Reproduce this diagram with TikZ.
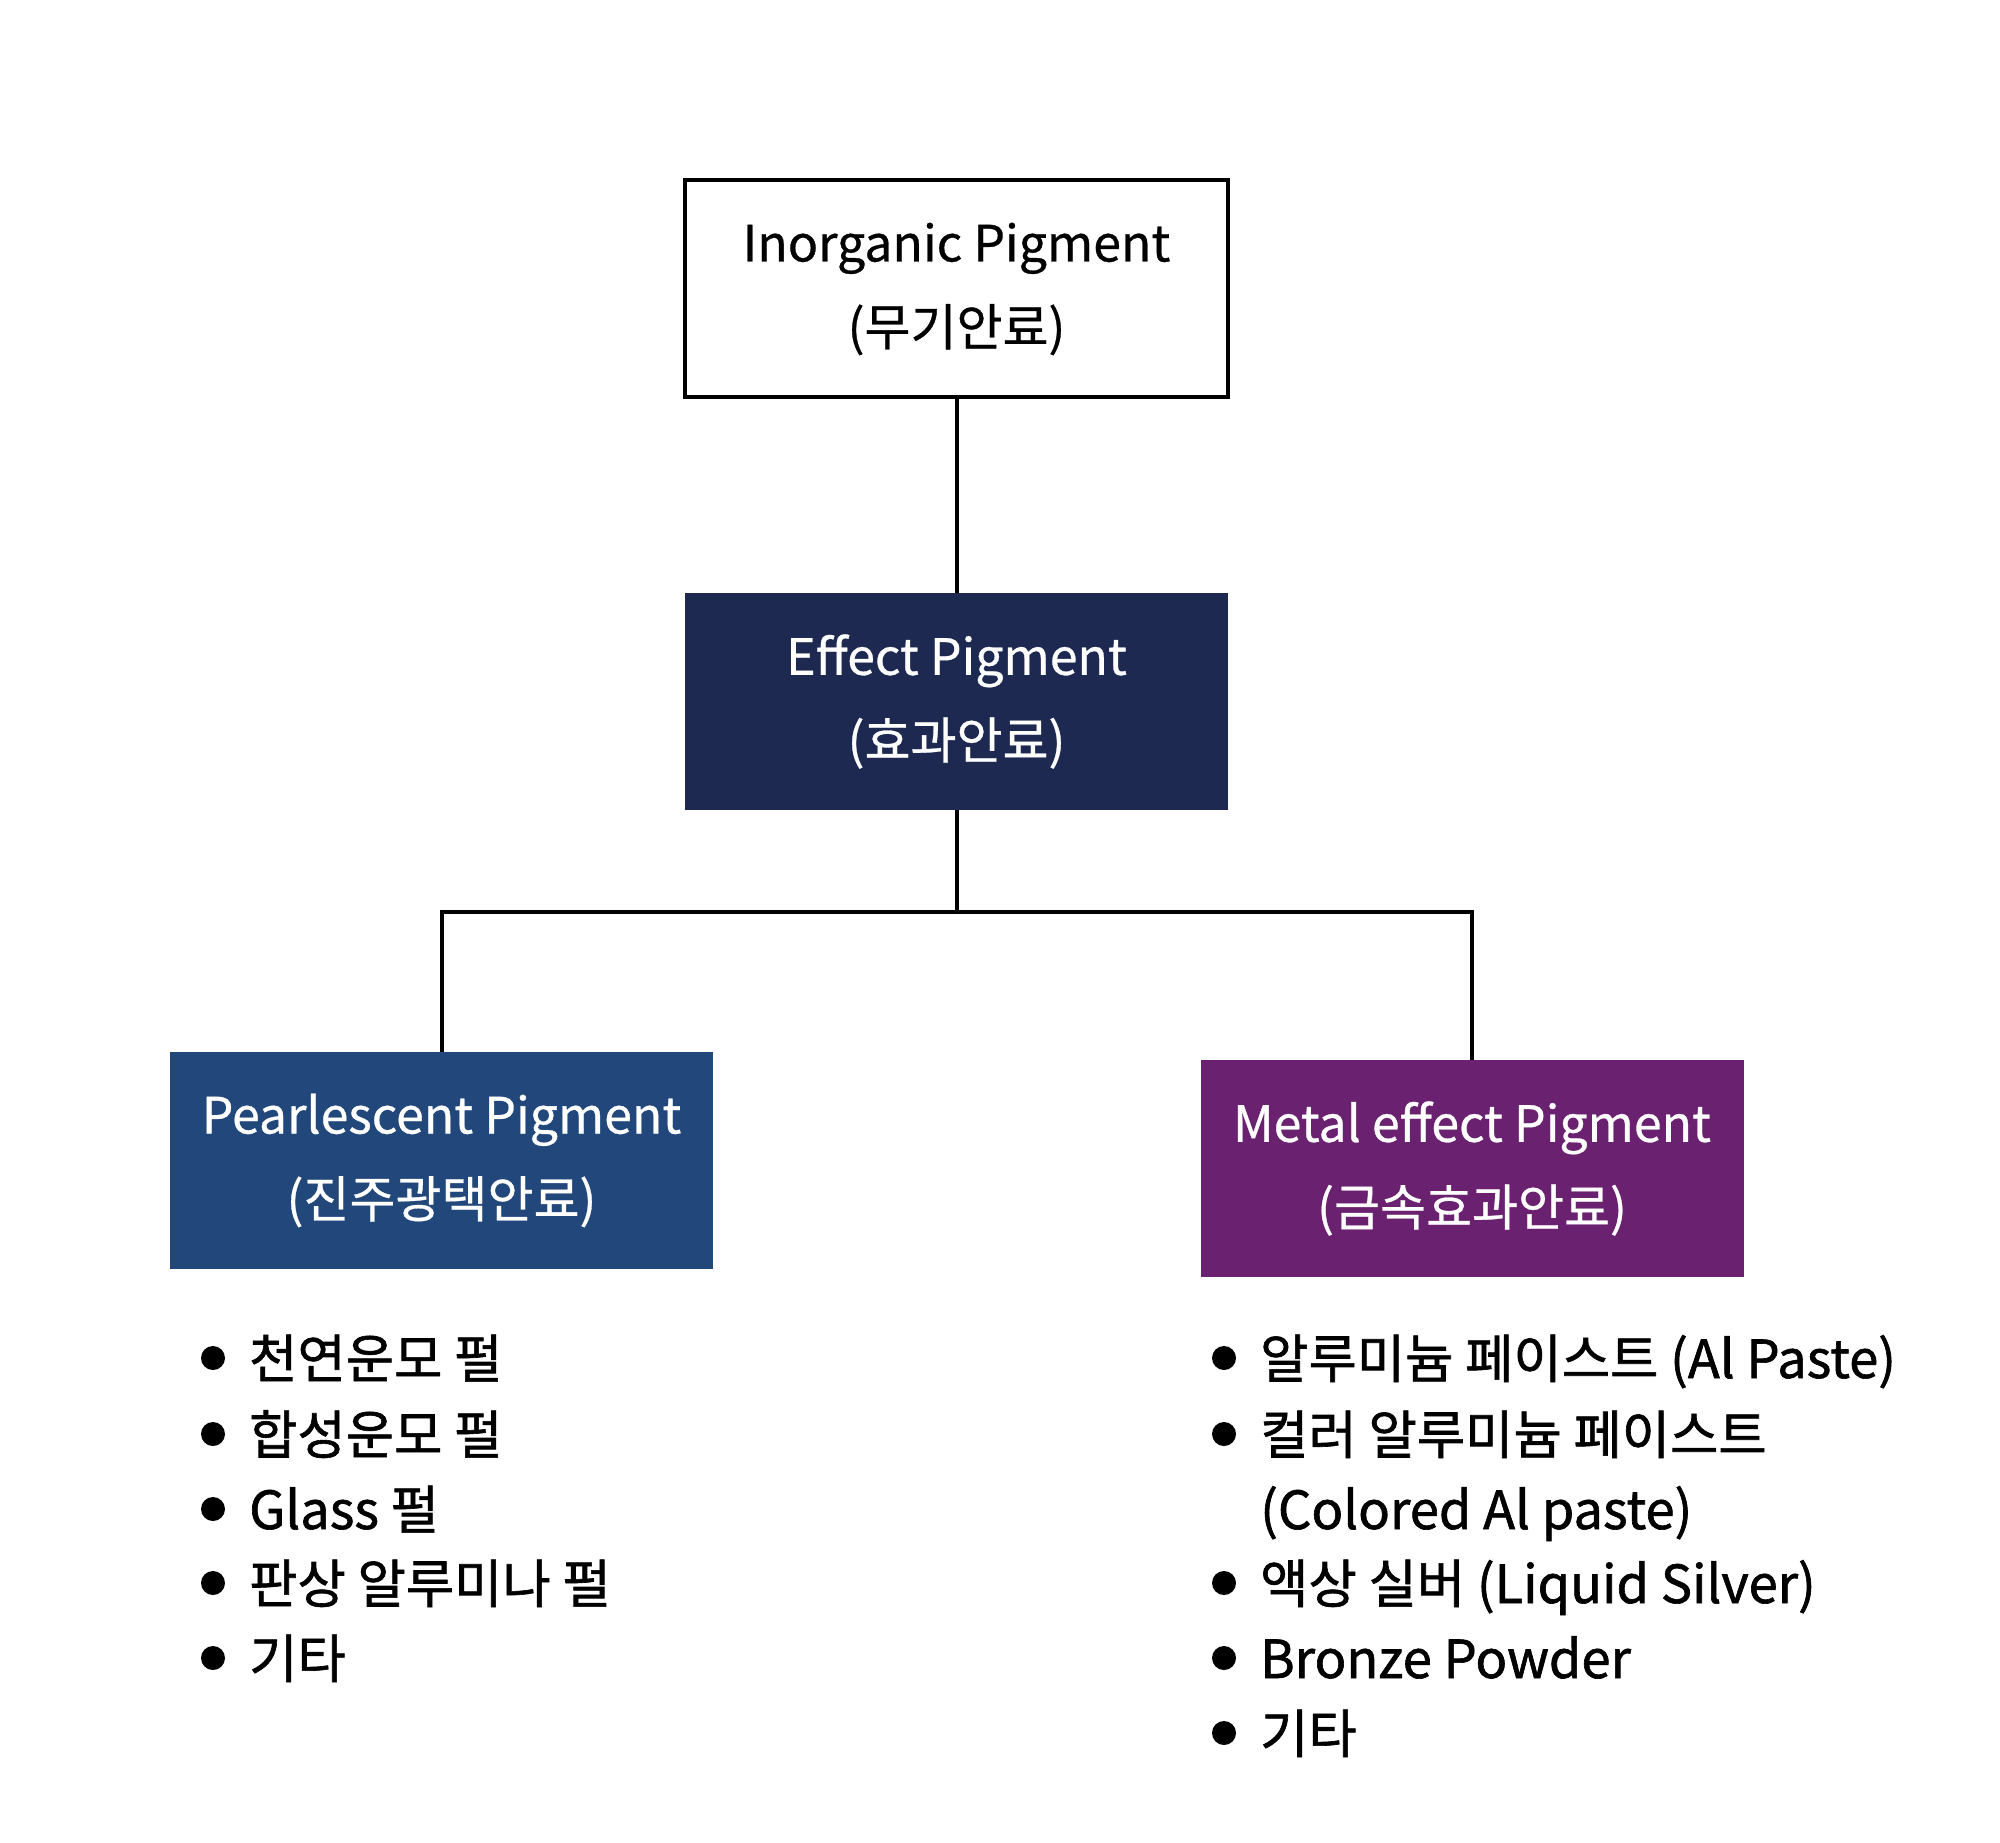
\documentclass[tikz,border=0pt]{standalone}
\usepackage{fontspec}
\setmainfont{Noto Sans CJK KR}
\newfontfamily\listfont{Noto Sans CJK KR}[FakeBold=1.2]
\newfontfamily\boxfont{Noto Sans CJK KR}[FakeBold=0.6]
\definecolor{effectc}{HTML}{1D2950}
\definecolor{pearlc}{HTML}{22477A}
\definecolor{metalc}{HTML}{6A2270}
\begin{document}
\begin{tikzpicture}[x=1pt,y=-1pt,
  box/.style={minimum width=543pt,minimum height=217pt,inner sep=0pt,align=center,
    font=\boxfont\fontsize{50}{84}\selectfont},
  link/.style={line width=4pt,black},
  item/.style={anchor=base west,inner sep=0pt,font=\listfont\fontsize{52.5}{60}\selectfont}]
\useasboundingbox (0,0) rectangle (2000,1843);
\fill[white] (0,0) rectangle (2000,1843);
\node[box,draw=black,line width=4pt] (inorg) at (956.5,289) {Inorganic Pigment\\(무기안료)};
\node[box,fill=effectc,text=white] (effect) at (956.5,701.5) {Effect Pigment\\(효과안료)};
\node[box,fill=pearlc,text=white] (pearl) at (441.5,1160.5) {Pearlescent Pigment\\(진주광택안료)};
\node[box,fill=metalc,text=white] (metal) at (1472,1168.5) {Metal effect Pigment\\(금속효과안료)};
\coordinate (split) at (956.5,912);
\draw[link] (inorg.south) -- (effect.north);
\draw[link] (effect.south) -- (split);
\draw[link] (pearl.north) |- (split) -| (metal.north);
% left list
\foreach \t/\y [count=\i] in {천연운모 펄/1358,합성운모 펄/1434,Glass 펄/1509,판상 알루미나 펄/1583,기타/1658}{
  \fill (213,\y) circle (12);
  \node[item] (l\i) at (249,\y+20) {\t};
}
% right list
\foreach \t/\y [count=\i] in {알루미늄 페이스트 (Al Paste)/1358,컬러 알루미늄 페이스트/1434,액상 실버 (Liquid Silver)/1583,Bronze Powder/1658,기타/1733}{
  \fill (1224,\y) circle (12);
  \node[item] (r\i) at (1260,\y+20) {\t};
}
\node[item] (r2b) at (1260,1529) {(Colored Al paste)};
\end{tikzpicture}
\end{document}
